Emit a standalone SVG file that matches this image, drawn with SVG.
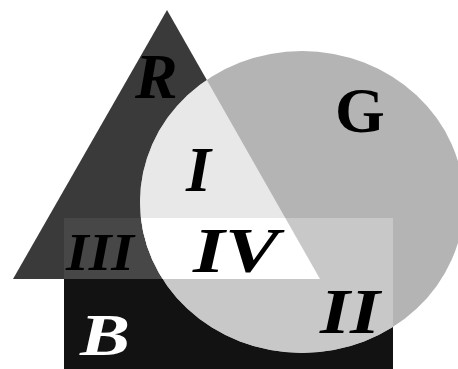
<svg xmlns="http://www.w3.org/2000/svg" width="458" height="369" viewBox="0 0 458 369">
<style>
.lbl{font-family:"Liberation Serif","Times New Roman",serif;font-weight:bold;font-style:italic;fill:#000}
</style>
<defs>
<clipPath id="cE"><ellipse cx="302" cy="202" rx="162" ry="151"/></clipPath>
<clipPath id="cT"><polygon points="167,10 13,279 320,279"/></clipPath>
</defs>
<rect width="458" height="369" fill="#fff"/>
<g id="B">
<rect x="64" y="218" width="329" height="151" fill="#121212"/>
</g>
<g id="R">
<polygon points="167,10 13,279 320,279" fill="#3a3a3a"/>
</g>
<g id="III">
<rect x="64" y="218" width="329" height="151" fill="#474747" clip-path="url(#cT)"/>
</g>
<g id="G">
<ellipse cx="302" cy="202" rx="162" ry="151" fill="#b4b4b4"/>
</g>
<g id="I">
<polygon points="167,10 13,279 320,279" fill="#e8e8e8" clip-path="url(#cE)"/>
</g>
<g id="II">
<rect x="64" y="218" width="329" height="151" fill="#c8c8c8" clip-path="url(#cE)"/>
</g>
<g id="IV">
<g clip-path="url(#cE)">
<rect x="64" y="218" width="329" height="151" fill="#ffffff" clip-path="url(#cT)"/>
</g>
</g>
<g id="connectors"></g>
<g id="labels">
<text class="lbl" x="135" y="98" font-size="64">R</text>
<text x="335" y="132" font-size="64" font-family="Liberation Serif, Times New Roman, serif" font-weight="bold" fill="#000">G</text>
<text class="lbl" x="186" y="191" font-size="64">I</text>
<text class="lbl" x="193" y="272" font-size="64" textLength="86" lengthAdjust="spacingAndGlyphs">IV</text>
<text class="lbl" x="66" y="270" font-size="52" textLength="68" lengthAdjust="spacingAndGlyphs">III</text>
<text class="lbl" x="320" y="333" font-size="64" textLength="60" lengthAdjust="spacingAndGlyphs">II</text>
<text class="lbl" x="80" y="355" font-size="60" textLength="50" lengthAdjust="spacingAndGlyphs" style="fill:#fff">B</text>
</g>
</svg>
